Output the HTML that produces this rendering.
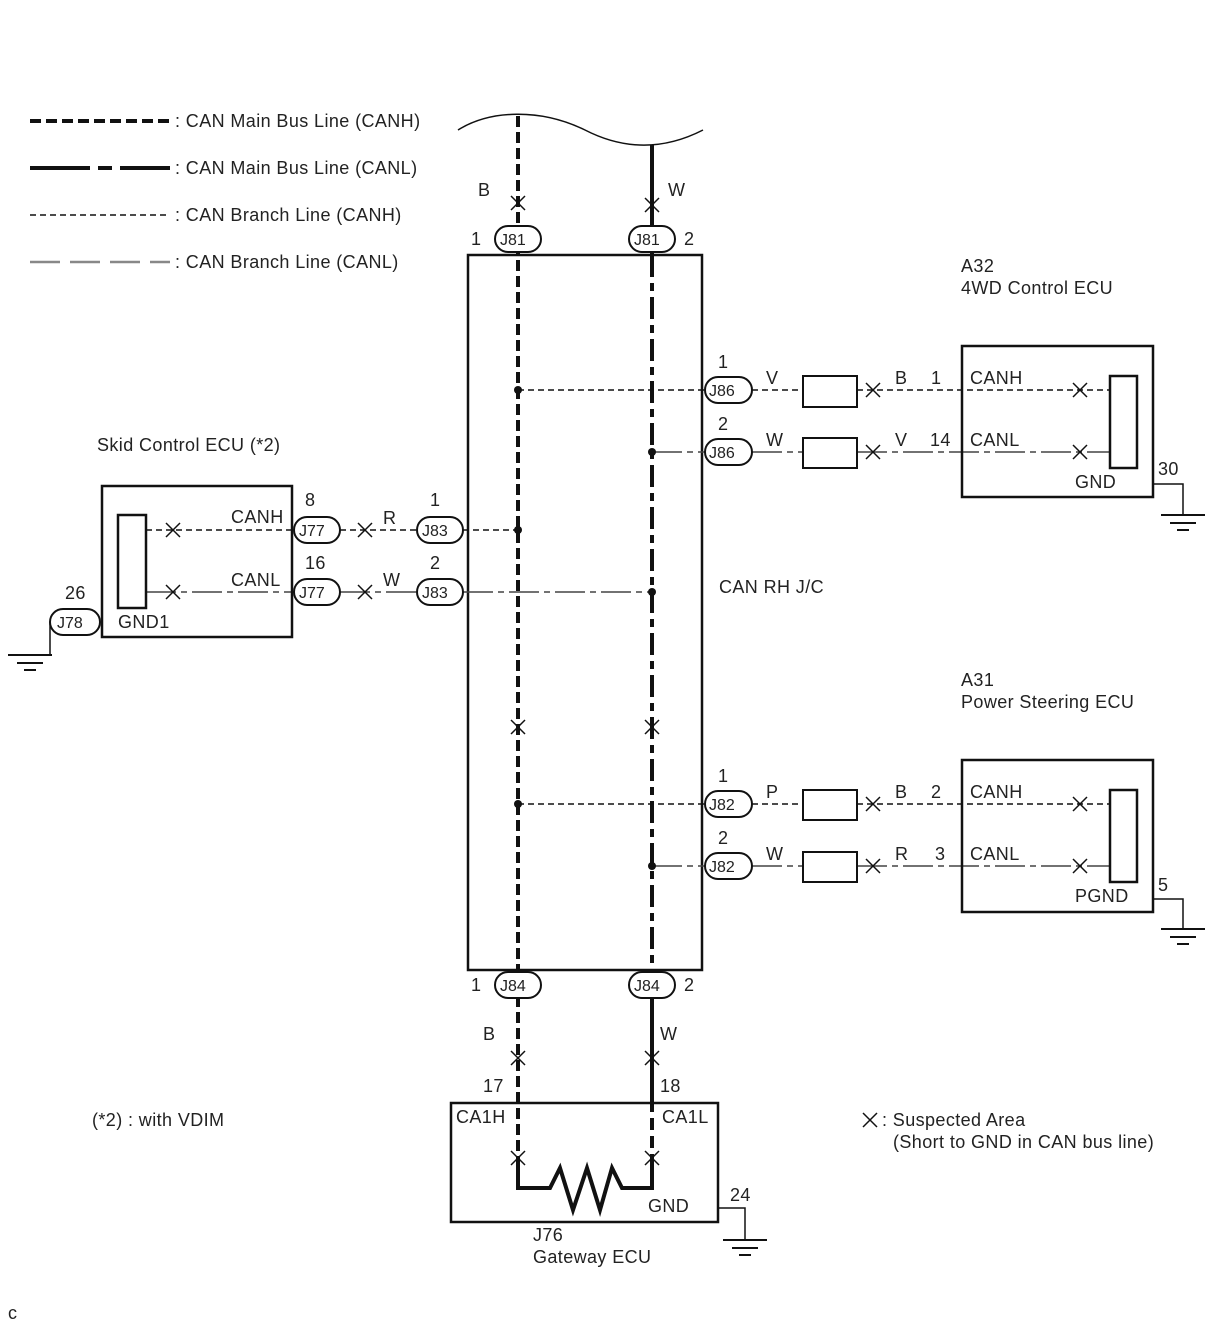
<!DOCTYPE html>
<html><head><meta charset="utf-8"><style>body{margin:0;background:#fff}svg{display:block}text{font-family:"Liberation Sans",sans-serif;font-size:18px;letter-spacing:0.4px;fill:#222}</style></head><body>
<svg width="1210" height="1328" viewBox="0 0 1210 1328" xmlns="http://www.w3.org/2000/svg">
<defs>
<g id="x"><path d="M-7,-7L7,7M7,-7L-7,7" stroke="#111" stroke-width="1.5"/></g>
<g id="gnd"><path d="M-22,0H22M-13,8H13M-6,15H6" stroke="#111" stroke-width="2"/></g>
</defs>
<g fill="none" stroke="#111">
<line x1="30" y1="121" x2="170" y2="121" stroke-width="4" stroke-dasharray="11,5"/>
<path d="M30,168H90M98,168H112M120,168H170" stroke-width="4"/>
<line x1="30" y1="215" x2="170" y2="215" stroke-width="1.5" stroke-dasharray="6,4"/>
<path d="M30,262H60M70,262H100M110,262H140M150,262H170" stroke="#888" stroke-width="2.5"/>
<path d="M458,130 C490,110 540,108 585,130 C620,148 660,152 703,130" stroke-width="1.5"/>
<rect x="468" y="255" width="234" height="715" stroke-width="2.5"/>
<line x1="518" y1="116" x2="518" y2="1158" stroke-width="4" stroke-dasharray="11,5"/>
<line x1="652" y1="145" x2="652" y2="255" stroke-width="4"/>
<line x1="652" y1="255" x2="652" y2="970" stroke-width="4" stroke-dasharray="22,6,8,6"/>
<line x1="652" y1="970" x2="652" y2="1100" stroke-width="4"/>
<line x1="652" y1="1100" x2="652" y2="1158" stroke-width="4" stroke-dasharray="12,6"/>
<g stroke-width="1.5" stroke-dasharray="6,4">
<line x1="518" y1="390" x2="705" y2="390"/><line x1="752" y1="390" x2="803" y2="390"/><line x1="857" y1="390" x2="1110" y2="390"/>
<line x1="518" y1="804" x2="705" y2="804"/><line x1="752" y1="804" x2="803" y2="804"/><line x1="857" y1="804" x2="1110" y2="804"/>
<line x1="146" y1="530" x2="294" y2="530"/><line x1="340" y1="530" x2="417" y2="530"/><line x1="463" y1="530" x2="518" y2="530"/>
</g>
<g stroke-width="1.5" stroke-dasharray="30,5,6,5" stroke="#444">
<line x1="652" y1="452" x2="705" y2="452"/><line x1="752" y1="452" x2="803" y2="452"/><line x1="857" y1="452" x2="1110" y2="452"/>
<line x1="652" y1="866" x2="705" y2="866"/><line x1="752" y1="866" x2="803" y2="866"/><line x1="857" y1="866" x2="1110" y2="866"/>
<line x1="146" y1="592" x2="294" y2="592"/><line x1="340" y1="592" x2="417" y2="592"/><line x1="463" y1="592" x2="652" y2="592"/>
</g>
<g stroke-width="2"><rect x="803" y="376" width="54" height="31"/><rect x="803" y="438" width="54" height="30"/><rect x="803" y="790" width="54" height="30"/><rect x="803" y="852" width="54" height="30"/></g>
<rect x="962" y="346" width="191" height="151" stroke-width="2.5"/>
<rect x="1110" y="376" width="27" height="92" stroke-width="2.5"/>
<rect x="962" y="760" width="191" height="152" stroke-width="2.5"/>
<rect x="1110" y="790" width="27" height="92" stroke-width="2.5"/>
<rect x="102" y="486" width="190" height="151" stroke-width="2.5"/>
<rect x="118" y="515" width="28" height="93" stroke-width="2.5"/>
<rect x="451" y="1103" width="267" height="119" stroke-width="2.5"/>
<path d="M1153,484H1183V515M1153,899H1183V929M718,1208H745V1240M50,622V655" stroke-width="1.5"/>
<path d="M518,1158V1188H550L560,1168L573,1210L587,1168L600,1210L612,1168L622,1188H652V1158" stroke-width="4"/>
<g stroke-width="2" fill="#fff">
<rect x="495" y="226" width="46" height="26" rx="13"/><rect x="629" y="226" width="46" height="26" rx="13"/>
<rect x="495" y="972" width="46" height="26" rx="13"/><rect x="629" y="972" width="46" height="26" rx="13"/>
<rect x="705" y="377" width="47" height="26" rx="13"/><rect x="705" y="439" width="47" height="26" rx="13"/>
<rect x="705" y="791" width="47" height="26" rx="13"/><rect x="705" y="853" width="47" height="26" rx="13"/>
<rect x="294" y="517" width="46" height="26" rx="13"/><rect x="294" y="579" width="46" height="26" rx="13"/>
<rect x="417" y="517" width="46" height="26" rx="13"/><rect x="417" y="579" width="46" height="26" rx="13"/>
<rect x="50" y="609" width="50" height="26" rx="13"/>
</g>
</g>
<g fill="#111"><circle cx="518" cy="390" r="4"/><circle cx="652" cy="452" r="4"/><circle cx="518" cy="804" r="4"/><circle cx="652" cy="866" r="4"/><circle cx="518" cy="530" r="4"/><circle cx="652" cy="592" r="4"/></g>
<use href="#gnd" x="1183" y="515"/><use href="#gnd" x="1183" y="929"/><use href="#gnd" x="745" y="1240"/><use href="#gnd" x="30" y="655"/>
<path d="M8,655H52" stroke="#111" stroke-width="2"/>
<use href="#x" x="518" y="203"/><use href="#x" x="652" y="205"/><use href="#x" x="873" y="390"/><use href="#x" x="1080" y="390"/>
<use href="#x" x="873" y="452"/><use href="#x" x="1080" y="452"/><use href="#x" x="873" y="804"/><use href="#x" x="1080" y="804"/>
<use href="#x" x="873" y="866"/><use href="#x" x="1080" y="866"/><use href="#x" x="173" y="530"/><use href="#x" x="173" y="592"/>
<use href="#x" x="365" y="530"/><use href="#x" x="365" y="592"/><use href="#x" x="518" y="727"/><use href="#x" x="652" y="727"/>
<use href="#x" x="518" y="1058"/><use href="#x" x="652" y="1058"/><use href="#x" x="518" y="1158"/><use href="#x" x="652" y="1158"/>
<use href="#x" x="870" y="1120"/>
<text x="175" y="127">: CAN Main Bus Line (CANH)</text>
<text x="175" y="174">: CAN Main Bus Line (CANL)</text>
<text x="175" y="221">: CAN Branch Line (CANH)</text>
<text x="175" y="268">: CAN Branch Line (CANL)</text>
<text x="478" y="196">B</text><text x="668" y="196">W</text>
<text x="471" y="245">1</text><text x="684" y="245">2</text>
<g>
<text x="500" y="245" style="font-size:16px;letter-spacing:0">J81</text><text x="634" y="245" style="font-size:16px;letter-spacing:0">J81</text>
<text x="500" y="991" style="font-size:16px;letter-spacing:0">J84</text><text x="634" y="991" style="font-size:16px;letter-spacing:0">J84</text>
<text x="709" y="396" style="font-size:16px;letter-spacing:0">J86</text><text x="709" y="458" style="font-size:16px;letter-spacing:0">J86</text>
<text x="709" y="810" style="font-size:16px;letter-spacing:0">J82</text><text x="709" y="872" style="font-size:16px;letter-spacing:0">J82</text>
<text x="299" y="536" style="font-size:16px;letter-spacing:0">J77</text><text x="299" y="598" style="font-size:16px;letter-spacing:0">J77</text>
<text x="422" y="536" style="font-size:16px;letter-spacing:0">J83</text><text x="422" y="598" style="font-size:16px;letter-spacing:0">J83</text>
<text x="57" y="628" style="font-size:16px;letter-spacing:0">J78</text></g>
<text x="961" y="272">A32</text><text x="961" y="294">4WD Control ECU</text>
<text x="718" y="368">1</text><text x="718" y="430">2</text><text x="718" y="782">1</text><text x="718" y="844">2</text>
<text x="766" y="384">V</text><text x="895" y="384">B</text><text x="931" y="384">1</text><text x="970" y="384">CANH</text>
<text x="766" y="446">W</text><text x="895" y="446">V</text><text x="930" y="446">14</text><text x="970" y="446">CANL</text>
<text x="1075" y="488">GND</text><text x="1158" y="475">30</text>
<text x="961" y="686">A31</text><text x="961" y="708">Power Steering ECU</text>
<text x="766" y="798">P</text><text x="895" y="798">B</text><text x="931" y="798">2</text><text x="970" y="798">CANH</text>
<text x="766" y="860">W</text><text x="895" y="860">R</text><text x="935" y="860">3</text><text x="970" y="860">CANL</text>
<text x="1075" y="902">PGND</text><text x="1158" y="891">5</text>
<text x="97" y="451">Skid Control ECU (*2)</text>
<text x="231" y="523">CANH</text><text x="231" y="586">CANL</text><text x="118" y="628">GND1</text><text x="65" y="599">26</text>
<text x="305" y="506">8</text><text x="305" y="569">16</text><text x="383" y="524">R</text><text x="383" y="586">W</text>
<text x="430" y="506">1</text><text x="430" y="569">2</text>
<text x="719" y="593">CAN RH J/C</text>
<text x="471" y="991">1</text><text x="684" y="991">2</text>
<text x="483" y="1040">B</text><text x="660" y="1040">W</text>
<text x="483" y="1092">17</text><text x="660" y="1092">18</text>
<text x="456" y="1123">CA1H</text><text x="662" y="1123">CA1L</text><text x="648" y="1212">GND</text>
<text x="730" y="1201">24</text><text x="533" y="1241">J76</text><text x="533" y="1263">Gateway ECU</text>
<text x="92" y="1126">(*2) : with VDIM</text>
<text x="882" y="1126">: Suspected Area</text><text x="893" y="1148">(Short to GND in CAN bus line)</text>
<text x="8" y="1319">c</text>
</svg>
</body></html>
